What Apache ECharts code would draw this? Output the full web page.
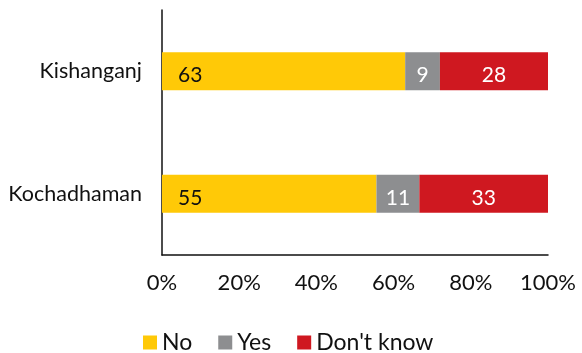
<!DOCTYPE html>
<html>
<head>
<meta charset="utf-8">
<script src="https://cdn.jsdelivr.net/npm/echarts@6/dist/echarts.min.js"></script>
<style>
  html, body { margin: 0; padding: 0; background: #fff; }
  #chart { width: 582px; height: 353px; }
</style>
</head>
<body>
<div id="chart"></div>
<script>
// Survey responses per block (percent of respondents)
const categories = ['Kishanganj', 'Kochadhaman'];
const noValues = [63, 55];
const yesValues = [9, 11];
const dontKnowValues = [28, 33];
const tickLabels = ['0%', '20%', '40%', '60%', '80%', '100%'];

const seriesDefs = [
  { name: 'No', values: noValues, color: '#FFC907' },
  { name: 'Yes', values: yesValues, color: '#8D8E90' },
  { name: "Don't know", values: dontKnowValues, color: '#CF1820' }
];

// 100% stacked: each segment is its share of the row total
const totals = categories.map((_, i) =>
  seriesDefs.reduce((s, d) => s + d.values[i], 0));

const FONT = 'Lato';

const chart = echarts.init(document.getElementById('chart'), null, { renderer: 'canvas' });

chart.setOption({
  animation: false,
  textStyle: { fontFamily: FONT },
  grid: { left: 162, right: 34, top: 10, bottom: 98, containLabel: false },
  xAxis: {
    type: 'value',
    min: 0,
    max: 100,
    interval: 20,
    axisLine: { show: true, lineStyle: { color: '#111', width: 1.5 } },
    axisTick: { show: false },
    splitLine: { show: false },
    axisLabel: {
      margin: 17,
      fontSize: 22,
      color: '#111',
      fontFamily: FONT,
      formatter: v => tickLabels[Math.round(v / 20)]
    }
  },
  yAxis: {
    type: 'category',
    data: categories,
    inverse: true,
    axisLine: { show: true, lineStyle: { color: '#111', width: 1.5 } },
    axisTick: { show: false },
    axisLabel: { margin: 20, fontSize: 21.5, color: '#111', fontFamily: FONT }
  },
  legend: {
    left: 138,
    top: 326,
    itemWidth: 14,
    itemHeight: 14,
    itemGap: 26,
    icon: 'rect',
    textStyle: { fontSize: 23, color: '#111', fontFamily: FONT },
    data: seriesDefs.map(d => d.name)
  },
  series: seriesDefs.map((d, si) => ({
    name: d.name,
    type: 'bar',
    stack: 'total',
    barWidth: 38,
    itemStyle: { color: d.color },
    data: d.values.map((v, i) => v / totals[i] * 100),
    label: {
      show: true,
      position: si === 0 ? 'insideLeft' : 'inside',
      distance: 16,
      offset: [0, 4],
      fontSize: 21,
      fontFamily: FONT,
      color: si === 0 ? '#111' : '#fff',
      formatter: p => String(d.values[p.dataIndex])
    }
  }))
});
</script>
</body>
</html>
